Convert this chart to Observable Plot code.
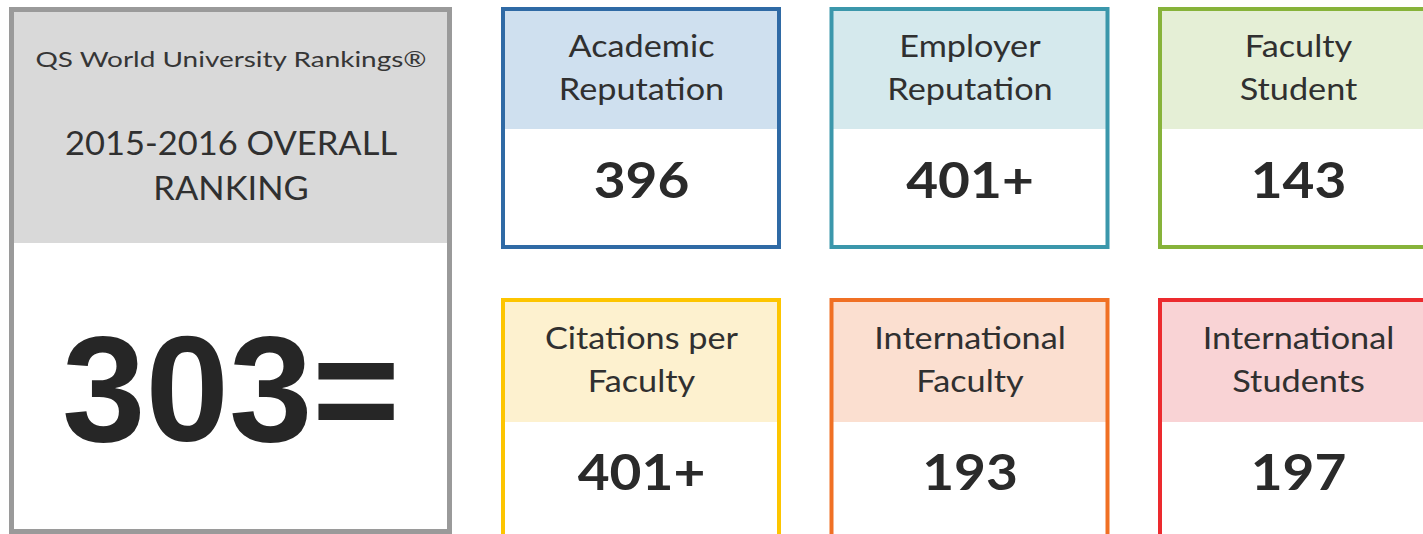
<!DOCTYPE html>
<html>
<head>
<meta charset="utf-8">
<script src="https://cdn.jsdelivr.net/npm/d3@7"></script>
<script src="https://cdn.jsdelivr.net/npm/@observablehq/plot@0.6"></script>
<style>
  html, body { margin: 0; padding: 0; background: #ffffff; overflow: hidden; }
  #chart svg { display: block; }
</style>
</head>
<body>
<div id="chart"></div>
<script>
// ---- Data ----
const overallSource = "QS World University Rankings®";
const overallHeading = "2015-2016 OVERALL\nRANKING";
const overallRank = "303=";
const categories = [
  "Academic\nReputation",
  "Employer\nReputation",
  "Faculty\nStudent",
  "Citations per\nFaculty",
  "International\nFaculty",
  "International\nStudents"
];
const ranks = ["396", "401+", "143", "401+", "193", "197"];

// ---- Styles ----
const borderColors = ["#2f6aa5", "#3b97ab", "#87b33a", "#fdc500", "#f07024", "#ec2a2e"];
const headerColors = ["#cfe0ef", "#d5e9ed", "#e5efd6", "#fdf1cf", "#fbdfd0", "#f9d3d5"];

// ---- Layout (pixel units of the picture) ----
const W = 1423, H = 534;
const card = {x0: 503, pitch: 328.5, w: 276, y0: 9, rowPitch: 291, h: 238, head: 120};
const big = {x1: 11.5, x2: 449.5, y1: 9.5, y2: 531.5, head: 243};

const cards = categories.map((label, i) => {
  const col = i % 3, row = Math.floor(i / 3);
  const x1 = card.x0 + col * card.pitch, x2 = x1 + card.w;
  const y1 = card.y0 + row * card.rowPitch, y2 = y1 + card.h;
  const yh = y1 + card.head + (row ? 2 : 0);
  return {label, rank: ranks[i], x1, x2, y1, y2, yh, xm: (x1 + x2) / 2,
          ylab: (y1 + yh) / 2 - 5, yrank: (yh + y2) / 2 - 6.5,
          stroke: borderColors[i], fill: headerColors[i]};
});

const overall = [{
  x1: big.x1, x2: big.x2, y1: big.y1, y2: big.y2, yh: big.head,
  xm: (big.x1 + big.x2) / 2, source: overallSource, heading: overallHeading, rank: overallRank
}];

const font = "Lato, 'Open Sans', sans-serif";

const plot = Plot.plot({
  width: W, height: H,
  margin: 0,
  x: {domain: [0, W], range: [0, W], axis: null},
  y: {domain: [0, H], range: [0, H], axis: null},
  style: {background: "#ffffff", fontFamily: font},
  marks: [
    // big overall box
    Plot.rect(overall, {x1: "x1", x2: "x2", y1: "y1", y2: "y2", fill: "#ffffff"}),
    Plot.rect(overall, {x1: "x1", x2: "x2", y1: "y1", y2: "yh", fill: "#d9d9d9"}),
    Plot.rect(overall, {x1: "x1", x2: "x2", y1: "y1", y2: "y2", fill: "none", stroke: "#9a9a9a", strokeWidth: 5}),
    Plot.text(overall, {x: "xm", y: d => d.y1 + 50.5, text: "source", fontSize: 21.5, fill: "#363636", fontFamily: font}),
    Plot.text(overall, {x: "xm", y: d => d.y1 + 153.5, text: "heading", fontSize: 33, lineHeight: 1.36, fill: "#303030", fontFamily: font}),
    Plot.text(overall, {x: "xm", y: d => d.y1 + 383, text: "rank", fontSize: 150, fontWeight: "bold", fill: "#262626", fontFamily: "'Liberation Sans', Arial, sans-serif"}),

    // metric cards
    Plot.rect(cards, {x1: "x1", x2: "x2", y1: "y1", y2: "y2", fill: "#ffffff"}),
    Plot.rect(cards, {x1: "x1", x2: "x2", y1: "y1", y2: "yh", fill: d => d.fill}),
    Plot.rect(cards, {x1: "x1", x2: "x2", y1: "y1", y2: "y2", fill: "none", stroke: d => d.stroke, strokeWidth: 4}),
    Plot.text(cards, {x: "xm", y: "ylab", text: "label", fontSize: 31, lineHeight: 1.4, fill: "#303030", fontFamily: font}),
    Plot.text(cards, {x: "xm", y: "yrank", text: "rank", fontSize: 50, fontWeight: "bold", fill: "#2a2a2a", fontFamily: font})
  ]
});

// the original artwork's lettering is horizontally stretched; widen the glyphs about each text anchor
const stretch = [1.3, 1.045, 1, 1.105, 1.1];
d3.select(plot).selectAll('g[aria-label="text"]').each(function(_, i) {
  const f = stretch[i];
  if (!f || f === 1) return;
  d3.select(this).selectAll("text").attr("transform", function() {
    const t = this.getAttribute("transform") || "";
    return `${t} scale(${f},1)`;
  });
});

document.getElementById("chart").appendChild(plot);
</script>
</body>
</html>
